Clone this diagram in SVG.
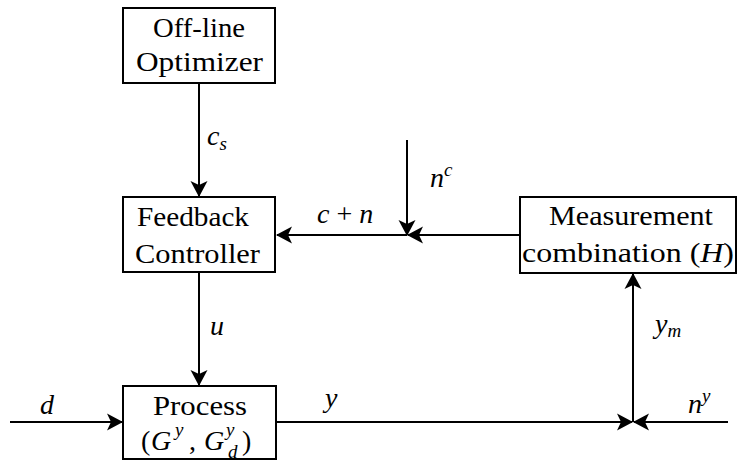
<svg xmlns="http://www.w3.org/2000/svg" width="738" height="463" viewBox="0 0 738 463">
  <style>
    .box { fill: #fff; stroke: #000; stroke-width: 2; }
    .wire { fill: none; stroke: #000; stroke-width: 2; marker-end: url(#head); }
    text { font-family: "Liberation Serif", "DejaVu Serif", "Times New Roman", Times, "Nimbus Roman", "Nimbus Roman No9 L", FreeSerif, Tinos, "Noto Serif", serif; fill: #000; }
    .lbl { font-size: 28px; }
    .m { font-style: italic; font-size: 28px; }
    .ms { font-style: italic; font-size: 19px; }
  </style>
  <defs>
    <marker id="head" markerUnits="userSpaceOnUse" markerWidth="20" markerHeight="20" viewBox="-17 -10 20 20" refX="0" refY="0" orient="auto">
      <path d="M1,0 L-15,-8.5 L-11,0 L-15,8.5 Z" fill="#000"/>
    </marker>
  </defs>

  <!-- connectors -->
  <g id="connectors">
    <path class="wire" d="M199,83 V196"/>
    <path class="wire" d="M407,140 V235"/>
    <path class="wire" d="M520,235 H408"/>
    <path class="wire" d="M407,235 H277"/>
    <path class="wire" d="M199,272 V385"/>
    <path class="wire" d="M10,422 H122"/>
    <path class="wire" d="M276,422 H632"/>
    <path class="wire" d="M728,422 H634"/>
    <path class="wire" d="M633,422 V274"/>
  </g>

  <!-- edge labels -->
  <g id="edge-labels">
    <text class="m" x="207" y="145">c<tspan class="ms" dy="5">s</tspan></text>
    <text class="m" x="317" y="223">c<tspan font-style="normal"> + </tspan>n</text>
    <text class="m" x="430" y="187">n<tspan class="ms" dy="-11">c</tspan></text>
    <text class="m" x="210" y="335">u</text>
    <text class="m" x="40" y="414">d</text>
    <text class="m" x="325" y="407">y</text>
    <text class="m" x="655" y="333">y<tspan class="ms" dy="4">m</tspan></text>
    <text class="m" x="688" y="413">n<tspan class="ms" dy="-11">y</tspan></text>
  </g>

  <g id="optimizer">
    <rect class="box" x="123" y="8" width="152" height="75"/>
    <text class="lbl" x="153" y="37" textLength="92" lengthAdjust="spacingAndGlyphs">Off-line</text>
    <text class="lbl" x="136" y="71" textLength="127" lengthAdjust="spacingAndGlyphs">Optimizer</text>
  </g>

  <g id="controller">
    <rect class="box" x="123" y="197" width="152" height="75"/>
    <text class="lbl" x="137" y="226" textLength="112" lengthAdjust="spacingAndGlyphs">Feedback</text>
    <text class="lbl" x="135" y="263" textLength="125" lengthAdjust="spacingAndGlyphs">Controller</text>
  </g>

  <g id="measurement">
    <rect class="box" x="520" y="197" width="216" height="76"/>
    <text class="lbl" x="549" y="225" textLength="164" lengthAdjust="spacingAndGlyphs">Measurement</text>
    <text class="lbl" x="522" y="262" textLength="212" lengthAdjust="spacingAndGlyphs">combination (<tspan font-style="italic">H</tspan>)</text>
  </g>

  <g id="process">
    <rect class="box" x="123" y="386" width="153" height="73"/>
    <text class="lbl" x="153" y="415" textLength="94" lengthAdjust="spacingAndGlyphs">Process</text>
    <text class="lbl" x="141" y="450">(</text>
    <text class="m" x="151" y="450">G</text>
    <text class="ms" x="175" y="436">y</text>
    <text class="lbl" x="189" y="450">,</text>
    <text class="m" x="204" y="450">G</text>
    <text class="ms" x="226" y="436">y</text>
    <text class="ms" x="228" y="458">d</text>
    <text class="lbl" x="242" y="450">)</text>
  </g>
</svg>
